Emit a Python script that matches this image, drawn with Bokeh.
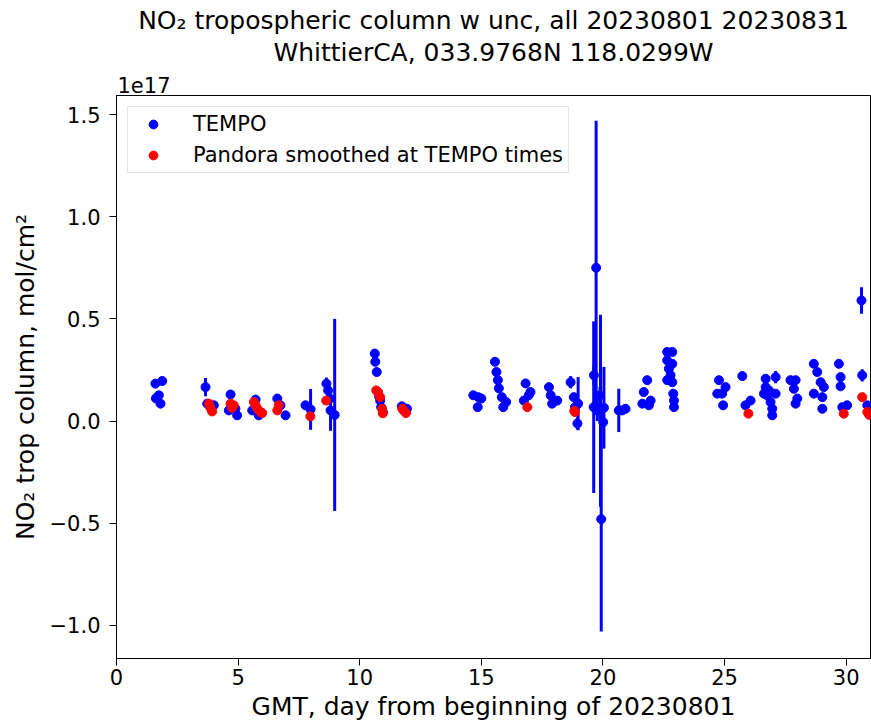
from bokeh.plotting import figure
from bokeh.models import (ColumnDataSource, Range1d, FixedTicker, CustomJSTickFormatter,
                          Title, Legend, LegendItem)
from bokeh.embed import file_html
from bokeh.resources import INLINE

# ---------------- data (NO2 tropospheric column, units of 1e17 mol/cm^2) ----------------
tempo_day = [
    1.60, 1.88, 1.74, 1.81, 1.62,
    3.66, 3.73, 3.87, 4.00,
    4.69, 4.62, 4.89, 4.96,
    5.58, 5.72, 5.85,
    6.61, 6.74, 6.95,
    7.77, 7.98,
    8.63, 8.70, 8.77, 8.80, 8.97,
    10.62, 10.64, 10.70, 10.80, 10.84, 10.88, 10.95,
    11.73, 11.94,
    14.67, 14.87, 15.00, 14.85,
    15.56, 15.62, 15.68, 15.72, 15.84, 15.90, 16.02,
    16.75, 16.82, 16.95, 17.02,
    17.78, 17.85, 17.91, 18.12,
    18.67, 18.80, 18.85, 18.98, 18.95,
    19.62, 19.63, 19.72, 19.77, 19.88, 19.90, 19.93, 20.01, 20.04,
    20.65, 20.79, 20.93,
    21.62, 21.68, 21.82, 21.89, 21.96,
    22.64, 22.85, 22.64, 22.85, 22.71, 22.78, 22.64, 22.85, 22.89, 22.92, 22.92,
    24.70, 24.77, 24.90, 24.94, 25.04,
    25.73, 25.86, 26.07,
    26.62, 26.69, 26.69, 26.75, 26.82, 26.89, 26.96, 26.96, 27.10, 27.10,
    27.71, 27.85, 27.92, 27.92, 27.99,
    28.67, 28.67, 28.81, 28.95, 29.02, 29.02, 29.08,
    29.70, 29.77, 29.77, 29.84, 30.04,
    30.63, 30.66, 30.87, 30.94,
]
tempo_no2 = [
    0.183, 0.196, 0.126, 0.085, 0.111,
    0.166, 0.085, 0.068, 0.077,
    0.130, 0.052, 0.060, 0.028,
    0.052, 0.105, 0.028,
    0.110, 0.077, 0.028,
    0.077, 0.057,
    0.183, 0.150, 0.110, 0.052, 0.030,
    0.330, 0.290, 0.240, 0.120, 0.100, 0.068, 0.044,
    0.072, 0.060,
    0.126, 0.117, 0.110, 0.068,
    0.290, 0.240, 0.200, 0.160, 0.117, 0.068, 0.093,
    0.100, 0.184, 0.126, 0.142,
    0.166, 0.126, 0.085, 0.100,
    0.190, 0.117, 0.068, 0.085, -0.012,
    0.068, 0.224, 0.750, 0.060, 0.126, 0.050, -0.480, -0.005, 0.065,
    0.052, 0.052, 0.060,
    0.085, 0.142, 0.200, 0.077, 0.100,
    0.338, 0.338, 0.297, 0.280, 0.256, 0.224, 0.200, 0.190, 0.134, 0.100, 0.068,
    0.134, 0.200, 0.134, 0.077, 0.166,
    0.220, 0.077, 0.100,
    0.134, 0.207, 0.166, 0.126, 0.150, 0.093, 0.060, 0.028, 0.215, 0.134,
    0.200, 0.158, 0.200, 0.085, 0.110,
    0.280, 0.134, 0.240, 0.190, 0.117, 0.060, 0.166,
    0.280, 0.215, 0.170, 0.068, 0.077,
    0.590, 0.224, 0.077, 0.036,
]
tempo_unc = [
    0.010, 0.010, 0.010, 0.010, 0.010,
    0.045, 0.010, 0.010, 0.010,
    0.015, 0.010, 0.010, 0.010,
    0.010, 0.010, 0.010,
    0.015, 0.010, 0.010,
    0.010, 0.100,
    0.030, 0.015, 0.015, 0.100, 0.470,
    0.020, 0.020, 0.020, 0.010, 0.010, 0.010, 0.010,
    0.010, 0.010,
    0.010, 0.010, 0.010, 0.010,
    0.020, 0.012, 0.012, 0.012, 0.012, 0.012, 0.012,
    0.010, 0.012, 0.010, 0.010,
    0.010, 0.010, 0.010, 0.010,
    0.030, 0.010, 0.030, 0.130, 0.030,
    0.420, 0.050, 0.720, 0.060, 0.040, 0.470, 0.550, 0.030, 0.200,
    0.106, 0.020, 0.010,
    0.010, 0.010, 0.010, 0.010, 0.010,
    0.015, 0.015, 0.015, 0.015, 0.015, 0.015, 0.015, 0.015, 0.015, 0.015, 0.015,
    0.010, 0.010, 0.010, 0.010, 0.010,
    0.012, 0.010, 0.010,
    0.010, 0.020, 0.010, 0.010, 0.010, 0.010, 0.010, 0.010, 0.030, 0.010,
    0.010, 0.010, 0.010, 0.010, 0.010,
    0.012, 0.012, 0.012, 0.012, 0.012, 0.012, 0.012,
    0.015, 0.010, 0.010, 0.010, 0.010,
    0.065, 0.030, 0.010, 0.010,
]

pandora_day = [
    3.80, 3.93, 3.86,
    4.69, 4.82, 4.75,
    5.65, 5.72, 5.79, 5.92, 5.99,
    6.61, 6.67,
    7.97,
    8.62,
    10.68, 10.76, 10.84, 10.92, 10.95,
    11.75, 11.80, 11.90,
    16.89,
    18.82, 18.85,
    25.98,
    29.90,
    30.66, 30.87, 30.95,
]
pandora_no2 = [
    0.085, 0.047, 0.065,
    0.085, 0.077, 0.065,
    0.093, 0.077, 0.060, 0.044, 0.039,
    0.052, 0.077,
    0.023,
    0.100,
    0.150, 0.140, 0.117, 0.060, 0.038,
    0.060, 0.052, 0.039,
    0.068,
    0.050, 0.044,
    0.036,
    0.036,
    0.117, 0.044, 0.030,
]
pandora_unc = [0.008] * len(pandora_day)

x_ticks = [0, 5, 10, 15, 20, 25, 30]
y_ticks = [-1.0, -0.5, 0.0, 0.5, 1.0, 1.5]
x_start, x_end = 0, 31
y_start, y_end = -1.162, 1.593

title_1 = "NO\u2082 tropospheric column w unc, all 20230801 20230831"
title_2 = "WhittierCA, 033.9768N 118.0299W"
x_label = "GMT, day from beginning of 20230801"
y_label = "NO\u2082 trop column, mol/cm\u00b2"
offset_text = "1e17"

FONT = "DejaVu Sans"
TEMPO_COLOR = "#0000ff"
PANDORA_COLOR = "#ff0000"

# ---------------- sources ----------------
tempo_src = ColumnDataSource(dict(
    day=tempo_day, no2=tempo_no2,
    lo=[v - e for v, e in zip(tempo_no2, tempo_unc)],
    hi=[v + e for v, e in zip(tempo_no2, tempo_unc)],
))
pandora_src = ColumnDataSource(dict(
    day=pandora_day, no2=pandora_no2,
    lo=[v - e for v, e in zip(pandora_no2, pandora_unc)],
    hi=[v + e for v, e in zip(pandora_no2, pandora_unc)],
))

# ---------------- figure ----------------
p = figure(width=871, height=725,
           x_range=Range1d(x_start, x_end), y_range=Range1d(y_start, y_end),
           output_backend="svg", toolbar_location=None,
           min_border_left=116, min_border_right=1,
           min_border_top=95, min_border_bottom=67)
p.title.text = ""
p.background_fill_color = "white"
p.border_fill_color = "white"
p.xgrid.visible = False
p.ygrid.visible = False
p.outline_line_color = "black"
p.outline_line_width = 1
p.outline_line_alpha = 1.0

t_seg = p.segment(x0="day", y0="lo", x1="day", y1="hi", source=tempo_src,
                  line_color=TEMPO_COLOR, line_width=3)
t_pts = p.scatter(x="day", y="no2", source=tempo_src, marker="circle", size=9,
                  fill_color=TEMPO_COLOR, line_color=TEMPO_COLOR)
p_seg = p.segment(x0="day", y0="lo", x1="day", y1="hi", source=pandora_src,
                  line_color=PANDORA_COLOR, line_width=3)
p_pts = p.scatter(x="day", y="no2", source=pandora_src, marker="circle", size=9,
                  fill_color=PANDORA_COLOR, line_color=PANDORA_COLOR)

# ---------------- axes ----------------
for ax in (p.xaxis[0], p.yaxis[0]):
    ax.major_tick_out = 7
    ax.major_tick_in = 0
    ax.minor_tick_out = 0
    ax.minor_tick_in = 0
    ax.axis_line_color = "black"
    ax.major_tick_line_color = "black"
    ax.major_label_text_font = FONT
    ax.major_label_text_font_size = "21px"
    ax.major_label_text_color = "black"
    ax.axis_label_text_font = FONT
    ax.axis_label_text_font_size = "25px"
    ax.axis_label_text_font_style = "normal"
    ax.axis_label_text_color = "black"

p.xaxis.ticker = FixedTicker(ticks=x_ticks)
p.yaxis.ticker = FixedTicker(ticks=y_ticks)
p.yaxis.formatter = CustomJSTickFormatter(
    code="return tick.toFixed(1).replace('-', '\\u2212');")
p.xaxis.axis_label = x_label
p.yaxis.axis_label = y_label
p.xaxis.major_label_standoff = 3
p.xaxis.axis_label_standoff = 4
p.yaxis.major_label_standoff = 9
p.yaxis.axis_label_standoff = 7

# ---------------- titles / offset text (first added = nearest the frame) ----------------
p.add_layout(Title(text=offset_text, align="left", standoff=6, offset=1,
                   text_font=FONT, text_font_size="21px", text_font_style="normal",
                   text_color="black"), "above")
p.add_layout(Title(text=title_2, align="center", standoff=9,
                   text_font=FONT, text_font_size="25px", text_font_style="normal",
                   text_color="black"), "above")
p.add_layout(Title(text=title_1, align="center", standoff=-7,
                   text_font=FONT, text_font_size="25px", text_font_style="normal",
                   text_color="black"), "above")

# ---------------- legend ----------------
legend = Legend(items=[LegendItem(label="TEMPO", renderers=[t_pts]),
                       LegendItem(label="Pandora smoothed at TEMPO times", renderers=[p_pts])],
                location="top_left", margin=11, padding=5, spacing=7,
                glyph_width=40, glyph_height=22, label_standoff=20, label_height=22,
                label_text_font=FONT, label_text_font_size="21px", label_text_color="black",
                border_line_color="#cccccc", border_line_width=1,
                background_fill_color="white", background_fill_alpha=0.8)
p.add_layout(legend)

open("out.html", "w").write(file_html(p, INLINE))
